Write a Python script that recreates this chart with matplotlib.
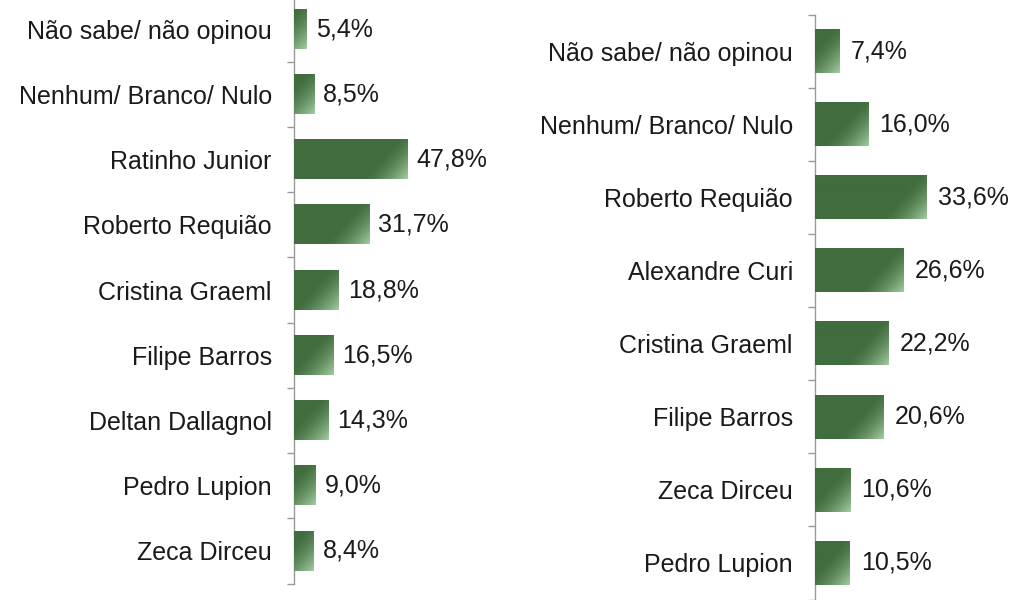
import numpy as np
import matplotlib.pyplot as plt
from matplotlib.colors import to_rgb

plt.rcParams['font.family'] = ['Liberation Sans', 'DejaVu Sans']

# left chart
left_labels = ['Não sabe/ não opinou', 'Nenhum/ Branco/ Nulo', 'Ratinho Junior',
               'Roberto Requião', 'Cristina Graeml', 'Filipe Barros',
               'Deltan Dallagnol', 'Pedro Lupion', 'Zeca Dirceu']
left_values = [5.4, 8.5, 47.8, 31.7, 18.8, 16.5, 14.3, 9.0, 8.4]

# right chart
right_labels = ['Não sabe/ não opinou', 'Nenhum/ Branco/ Nulo', 'Roberto Requião',
                'Alexandre Curi', 'Cristina Graeml', 'Filipe Barros',
                'Zeca Dirceu', 'Pedro Lupion']
right_values = [7.4, 16.0, 33.6, 26.6, 22.2, 20.6, 10.6, 10.5]

DARK = np.array(to_rgb('#416d3e'))
LIGHT = np.array(to_rgb('#a3cda1'))
W, H = 1030, 600
FS = 18

fig = plt.figure(figsize=(10.3, 6), dpi=100)


def make_axes(x_px, bottom_px, height_px, xmax):
    ax = fig.add_axes([x_px / W, bottom_px / H, 200 / W, height_px / H])
    ax.set_xlim(0, xmax)
    return ax


def draw(ax, labels, values, bar_h=0.6):
    n = len(labels)
    y = np.arange(n)
    ax.set_ylim(n - 0.5, -0.5)
    bars = ax.barh(y, values, height=bar_h, color='none', linewidth=0, zorder=2)
    ax.set_yticks(y)
    ax.set_yticklabels(labels, fontsize=FS, color='#1a1a1a')
    ax.set_yticks(np.arange(n + 1) - 0.5, minor=True)
    ax.tick_params(axis='y', which='major', length=0, pad=16)
    ax.tick_params(axis='y', which='minor', length=5, width=1, color='#999999')
    ax.set_xticks([])
    for s in ['top', 'right', 'bottom']:
        ax.spines[s].set_visible(False)
    ax.spines['left'].set_color('#999999')
    ax.spines['left'].set_linewidth(1)
    ax.set_facecolor('none')

    # fill each bar with a gradient (light lower-right corner)
    for b in bars:
        x0, y0 = b.get_x(), b.get_y()
        w, h = b.get_width(), b.get_height()
        p0 = ax.transData.transform((x0, y0 + h))
        p1 = ax.transData.transform((x0 + w, y0))
        wpx = max(int(abs(p1[0] - p0[0])), 2)
        hpx = max(int(abs(p1[1] - p0[1])), 2)
        dx = (wpx - 1 - np.arange(wpx))[None, :]   # distance from right edge
        dy = np.arange(hpx)[:, None]               # distance from bottom
        t = np.clip(1 - (dx + 0.9 * dy) / 45.0, 0, 1) ** 1.6
        img = DARK[None, None, :] * (1 - t[..., None]) + LIGHT[None, None, :] * t[..., None]
        ax.imshow(img, extent=(x0, x0 + w, y0 + h, y0), origin='lower',
                  aspect='auto', interpolation='bilinear', zorder=3)
    ax.set_ylim(n - 0.5, -0.5)


ax1 = make_axes(294, 16.4, 587, 84)
draw(ax1, left_labels, left_values)
ax1.set_xlim(0, 84)
for i, v in enumerate(left_values):
    ax1.annotate(f'{v:.1f}%'.replace('.', ','), (v, i), xytext=(9, 0),
                 textcoords='offset pixels', va='center', ha='left',
                 fontsize=FS, color='#1a1a1a')

ax2 = make_axes(815, 0.5, 585, 60)
draw(ax2, right_labels, right_values)
ax2.set_xlim(0, 60)
for i, v in enumerate(right_values):
    ax2.annotate(f'{v:.1f}%'.replace('.', ','), (v, i), xytext=(11, 0),
                 textcoords='offset pixels', va='center', ha='left',
                 fontsize=FS, color='#1a1a1a')

fig.savefig('out.png', dpi=100)
